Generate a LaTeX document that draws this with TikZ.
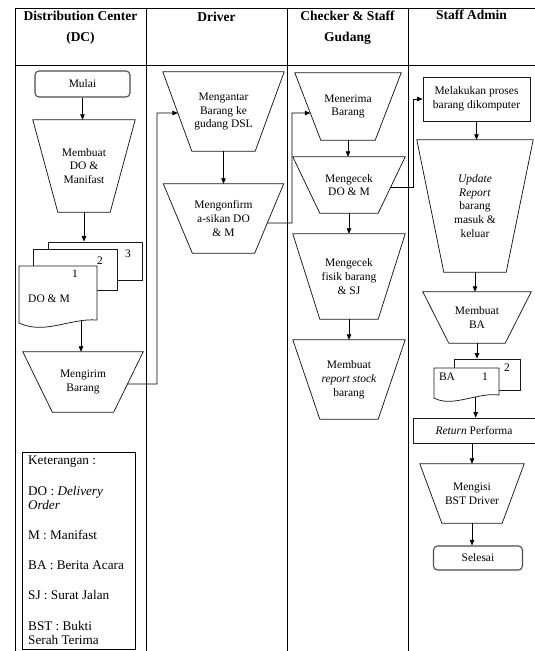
\documentclass[tikz,border=0pt]{standalone}
\usepackage{fontspec}
\setmainfont{Liberation Serif}
\usetikzlibrary{arrows.meta,calc}
\newcommand\bodyfont{\fontsize{11.5}{13.8}\selectfont}
\newcommand\hdrfont{\fontsize{13.5}{21}\selectfont\bfseries}
\newcommand\legfont{\fontsize{13.2}{14.2}\selectfont}
\tikzset{
  tline/.style={line width=1pt, draw=black},
  shapeline/.style={line width=0.75pt, draw=black!90},
  box/.style={draw=black!90, line width=0.75pt, rectangle, inner sep=0pt, align=center, font=\bodyfont},
  rbox/.style={box, rounded corners=4pt, line width=1.1pt, draw=black!70},
  trapbox/.style 2 args={rectangle, inner sep=0pt, minimum width=#1, minimum height=#2, align=center, font=\bodyfont},
  arr/.style={line width=0.8pt, draw=black, -{Triangle[length=5.5pt,width=4.5pt]}},
  hdr/.style={font=\hdrfont, align=center, inner sep=0pt},
  docback/.style={draw=black!90, line width=0.75pt, fill=white, rectangle, inner sep=0pt},
  lbl/.style={font=\bodyfont, inner sep=0pt},
}
\newcommand\trapOutline[2]{%
  \coordinate (#1-bl) at ([xshift=#2]#1.south west);
  \coordinate (#1-br) at ([xshift=-#2]#1.south east);
  \draw[shapeline] (#1.north west) -- (#1.north east) -- (#1-br) -- (#1-bl) -- cycle;}
\begin{document}
\begin{tikzpicture}[x=1pt,y=-1pt]
\useasboundingbox (0,0) rectangle (535,651);
% table
\draw[tline] (15,8) -- (535,8);
\draw[tline] (15,65) -- (535,65);
\draw[tline] (15,8) -- (15,651);
\draw[tline] (146,8) -- (146,651);
\draw[tline] (287,8) -- (287,651);
\draw[tline] (408,8) -- (408,651);
% headers
\node[hdr] (hdc) at (80.5,28) {Distribution Center\\(DC)};
\node[hdr] (hdriver) at (216.5,17) {Driver};
\node[hdr] (hchecker) at (347.5,28) {Checker \& Staff\\Gudang};
\node[hdr] (hadmin) at (471.5,15) {Staff Admin};

% ---------- DC column
\node[rbox, minimum width=95pt, minimum height=26pt] (mulai) at (82.5,84) {Mulai};
\node[trapbox={102pt}{92pt}] (membuat) at (84,166) {Membuat\\DO \&\\Manifast};
\trapOutline{membuat}{25pt}
\node[docback, minimum width=94pt, minimum height=38pt] (dc3) at (95,261) {};
\node[docback, minimum width=84pt, minimum height=41pt] (dc2) at (75,269.5) {};
\filldraw[shapeline, fill=white] (19,266) -- (97,266) -- (97,320)
   .. controls (70,318) and (45,335) .. coordinate[pos=0.2] (dcout) (19,323) -- cycle;
\node[lbl] (n3) at (128,254) {3};
\node[lbl] (n2) at (100,261) {2};
\node[lbl] (n1) at (75,274) {1};
\node[lbl] (dotext) at (49,299) {DO \& M};
\node[trapbox={120pt}{60pt}] (mengirim) at (83,382) {Mengirim\\Barang};
\trapOutline{mengirim}{29.5pt}
\node[draw=black, line width=0.8pt, rectangle, minimum width=113pt, minimum height=197pt, anchor=north west, inner sep=0pt] (legend) at (22,452) {};
\node[anchor=north west, align=left, font=\legfont, inner sep=0pt] (legendtext) at (28,456)
  {Keterangan :\\[16pt] DO : \textit{Delivery}\\\textit{Order}\\[16pt] M : Manifast\\[16pt] BA : Berita Acara\\[16pt] SJ : Surat Jalan\\[16pt] BST : Bukti\\Serah Terima};

% ---------- Driver column
\node[trapbox={121pt}{79pt}] (mengantar) at (223.5,111.5) {Mengantar\\Barang ke\\gudang DSL};
\trapOutline{mengantar}{29pt}
\node[trapbox={120pt}{69pt}] (mengonfirm) at (223.5,218.5) {Mengonfirm\\a-sikan DO\\\& M};
\trapOutline{mengonfirm}{29pt}

% ---------- Checker column
\node[trapbox={106pt}{67pt}] (menerima) at (348,106.5) {Menerima\\Barang};
\trapOutline{menerima}{26pt}
\node[trapbox={112pt}{56pt}] (mengecek) at (349,185) {Mengecek\\DO \& M};
\trapOutline{mengecek}{27pt}
\node[trapbox={112pt}{85pt}] (fisik) at (349,276.5) {Mengecek\\fisik barang\\\& SJ};
\trapOutline{fisik}{27pt}
\node[trapbox={112pt}{79pt}] (report) at (349,379.5) {Membuat\\\textit{report stock}\\barang};
\trapOutline{report}{27pt}

% ---------- Admin column
\node[box, minimum width=107pt, minimum height=44pt] (melakukan) at (476.5,99) {Melakukan proses\\barang dikomputer};
\node[trapbox={116pt}{132pt}] (update) at (475,206) {\textit{Update}\\\textit{Report}\\barang\\masuk \&\\keluar};
\trapOutline{update}{27pt}
\node[trapbox={108pt}{51pt}] (membuatba) at (477,317.5) {Membuat\\BA};
\trapOutline{membuatba}{26pt}
\node[docback, minimum width=66pt, minimum height=31pt] (baback) at (487,374.5) {};
\filldraw[shapeline, fill=white] (434,368) -- (499,368) -- (499,395)
   .. controls (478,392) and (452,408) .. coordinate[pos=0.35] (baout) (434,398) -- cycle;
\node[lbl] (batext) at (447,377) {BA};
\node[lbl] (ba1) at (485,377) {1};
\node[lbl] (ba2) at (507,368) {2};
\node[box, minimum width=122pt, minimum height=25pt] (return) at (474,430.5) {\textit{Return} Performa};
\node[trapbox={104pt}{59pt}] (mengisi) at (472,493.5) {Mengisi\\BST Driver};
\trapOutline{mengisi}{22pt}
\node[rbox, minimum width=89pt, minimum height=24pt] (selesai) at (478,558) {Selesai};

% ---------- connectors
\draw[arr] (mulai.south) -- (mulai.south |- membuat.north);
\draw[arr] (membuat.south) -- (membuat.south |- dc3.north);
\draw[arr] (dcout) -- (dcout |- mengirim.north);
\coordinate (j1) at (157,113);
\draw[arr] ($(mengirim.north east)!0.533!(mengirim-br)$) -| (j1) -- ($(mengantar.north west)!0.519!(mengantar-bl)$);
\draw[arr] (mengantar.south) -- (mengantar.south |- mengonfirm.north);
\coordinate (j2) at (292,113);
\draw[arr] ($(mengonfirm.north east)!0.565!(mengonfirm-br)$) -| (j2) -- ($(menerima.north west)!0.597!(menerima-bl)$);
\draw[arr] (menerima.south) -- (menerima.south |- mengecek.north);
\draw[arr] ($(mengecek.north east)!0.536!(mengecek-br)$) -| ($(melakukan.west)+(-9,0)$) -- (melakukan.west);
\draw[arr] (mengecek.south) -- (mengecek.south |- fisik.north);
\draw[arr] (fisik.south) -- (fisik.south |- report.north);
\draw[arr] (melakukan.south) -- (melakukan.south |- update.north);
\draw[arr] (update.south) -- (update.south |- membuatba.north);
\draw[arr] (membuatba.south) -- (membuatba.south |- baback.north);
\draw[arr] (baout) -- (baout |- return.north);
\draw[arr] (return.south -| mengisi.south) -- (mengisi.north);
\draw[arr] (mengisi.south) -- (mengisi.south |- selesai.north);
\end{tikzpicture}
\end{document}
